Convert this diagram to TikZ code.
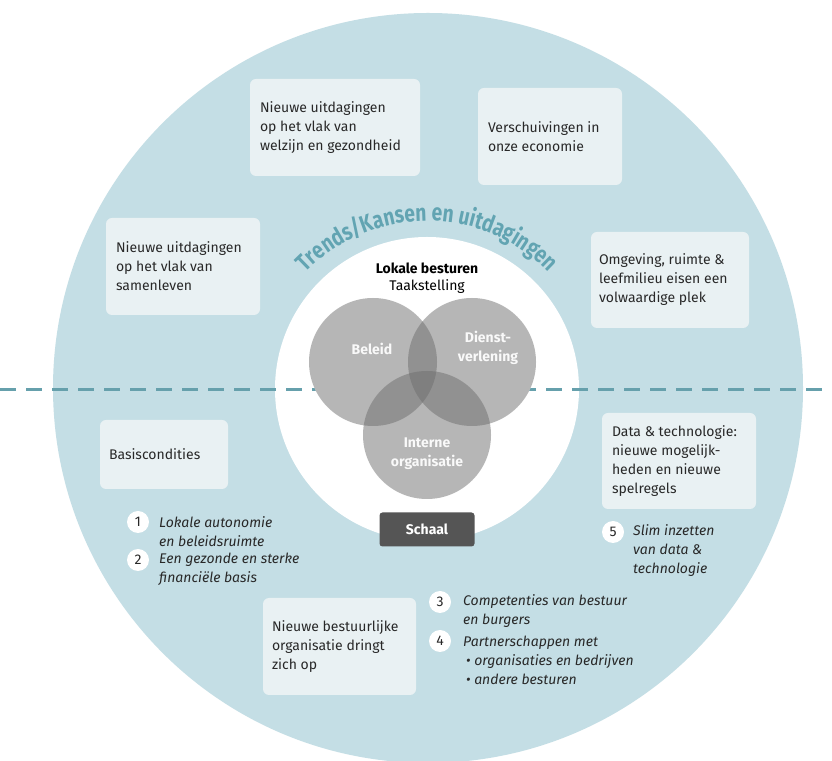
\documentclass[tikz,border=0pt]{standalone}
\usepackage{fontspec}
\setmainfont{Fira Sans}
\newfontfamily\trendfam{Fira Sans}[FakeStretch=0.8]
\usetikzlibrary{decorations.text}
\definecolor{bigc}{RGB}{196,222,229}
\definecolor{boxc}{RGB}{233,241,243}
\definecolor{dashc}{RGB}{102,160,172}
\definecolor{trendc}{RGB}{98,164,178}
\definecolor{txt}{RGB}{40,40,40}
\definecolor{vennc}{RGB}{110,110,110}
\definecolor{schaalc}{RGB}{85,85,85}
\newcommand{\trendfont}{\trendfam\bfseries\fontsize{24}{27}\selectfont}
\begin{document}
\begin{tikzpicture}[x=1pt,y=1pt,
  infobox/.style={fill=boxc, rounded corners=6pt, inner sep=0pt},
  boxtext/.style={anchor=west, align=left, inner sep=0pt, text=txt, font=\fontsize{14}{19}\selectfont},
  numc/.style={circle, fill=white, minimum size=22pt, inner sep=0pt, text=txt, font=\fontsize{14}{14}\selectfont},
  itemtxt/.style={anchor=west, align=left, inner sep=0pt, text=txt, font=\itshape\fontsize{14}{19}\selectfont},
  vennw/.style={circle, fill=white, minimum size=128pt, inner sep=0pt},
  venng/.style={circle, fill=vennc, fill opacity=0.5, minimum size=128pt, inner sep=0pt},
  vlabel/.style={align=center, inner sep=0pt, text=white!95!gray, font=\bfseries\fontsize{14}{19}\selectfont}
]
\useasboundingbox (0,0) rectangle (832,760);
\fill[white] (0,0) rectangle (832,760);
% outer and inner circles
\node[circle, fill=bigc, minimum size=750pt, inner sep=0pt] (outer) at (428,372) {};
\node[circle, fill=white, minimum size=304pt, inner sep=0pt] (inner) at (427,371) {};
% dashed divider
\coordinate (dl) at (0,370);
\coordinate (dr) at (832,370);
\draw[dashc, line width=3pt, dash pattern=on 16pt off 10pt] (dl) -- (dr);
% Venn diagram
\node[vennw] (wb) at (373,398) {};
\node[vennw] (wd) at (472,398) {};
\node[vennw] (wi) at (427,325) {};
\node[venng] (beleid) at (373,398) {};
\node[venng] (dienst) at (472,398) {};
\node[venng] (interne) at (427,325) {};
\node[vlabel] (lbeleid) at (372,411) {Beleid};
\node[vlabel] (ldienst) at (488,412) {Dienst-\\verlening};
\node[vlabel] (linterne) at (427,306) {Interne\\organisatie};
\node[inner sep=0pt, font=\bfseries\fontsize{14}{16}\selectfont] (lokale) at (427,492) {Lokale besturen};
\node[inner sep=0pt, font=\fontsize{14}{16}\selectfont] (taak) at (427,473) {Taakstelling};
\node[fill=schaalc, rounded corners=3pt, minimum width=95pt, minimum height=34pt, inner sep=0pt, text=white, font=\bfseries\fontsize{14}{14}\selectfont] (schaal) at (427,230.5) {Schaal};
% boxes
\node[infobox, minimum width=170pt, minimum height=97pt] (welzijn) at (335,632.5) {};
\node[boxtext] (welzijnt) at ([xshift=10pt]welzijn.west) {Nieuwe uitdagingen\\op het vlak van\\welzijn en gezondheid};
\node[infobox, minimum width=144pt, minimum height=97pt] (economie) at (550,623.5) {};
\node[boxtext] (economiet) at ([xshift=10pt]economie.west) {Verschuivingen in\\onze economie};
\node[infobox, minimum width=154pt, minimum height=97pt] (samenleven) at (183,493.5) {};
\node[boxtext] (samenlevent) at ([xshift=10pt]samenleven.west) {Nieuwe uitdagingen\\op het vlak van\\samenleven};
\node[infobox, minimum width=158pt, minimum height=96pt] (omgeving) at (670,480) {};
\node[boxtext] (omgevingt) at ([xshift=8pt]omgeving.west) {Omgeving, ruimte \&\\leefmilieu eisen een\\volwaardige plek};
\node[infobox, minimum width=128pt, minimum height=69pt] (basis) at (164,305.5) {};
\node[boxtext] (basist) at ([xshift=9pt]basis.west) {Basiscondities};
\node[infobox, minimum width=154pt, minimum height=96pt] (data) at (679,299) {};
\node[boxtext] (datat) at ([xshift=10pt]data.west) {Data \& technologie:\\nieuwe mogelijk-\\heden en nieuwe\\spelregels};
\node[infobox, minimum width=153pt, minimum height=97pt] (bestuur) at (339.5,113.5) {};
\node[boxtext] (bestuurt) at ([xshift=9pt]bestuur.west) {Nieuwe bestuurlijke\\organisatie dringt\\zich op};
% numbered items
\node[numc] (n1) at (138,238) {1};
\node[itemtxt] (t1) at (159,228.5) {Lokale autonomie\\en beleidsruimte};
\node[numc] (n2) at (138,200) {2};
\node[itemtxt] (t2) at (159,190.5) {Een gezonde en sterke\\financiële basis};
\node[numc] (n3) at (440,158) {3};
\node[itemtxt] (t3) at (463,148.5) {Competenties van bestuur\\en burgers};
\node[numc] (n4) at (440,119) {4};
\node[itemtxt] (t4) at (463,100) {Partnerschappen met\\\hspace{3pt}\textbullet{} organisaties en bedrijven\\\hspace{3pt}\textbullet{} andere besturen};
\node[numc] (n5) at (613,228) {5};
\node[itemtxt] (t5) at (633,209) {Slim inzetten\\van data \&\\technologie};
% curved title
\path[decorate, decoration={text along path, text align=center, text color=trendc,
  text={|\trendfont|Trends/Kansen en uitdagingen}}]
  (427,370) ++(148:169pt) arc[start angle=148, end angle=32, radius=169pt];
\end{tikzpicture}
\end{document}
